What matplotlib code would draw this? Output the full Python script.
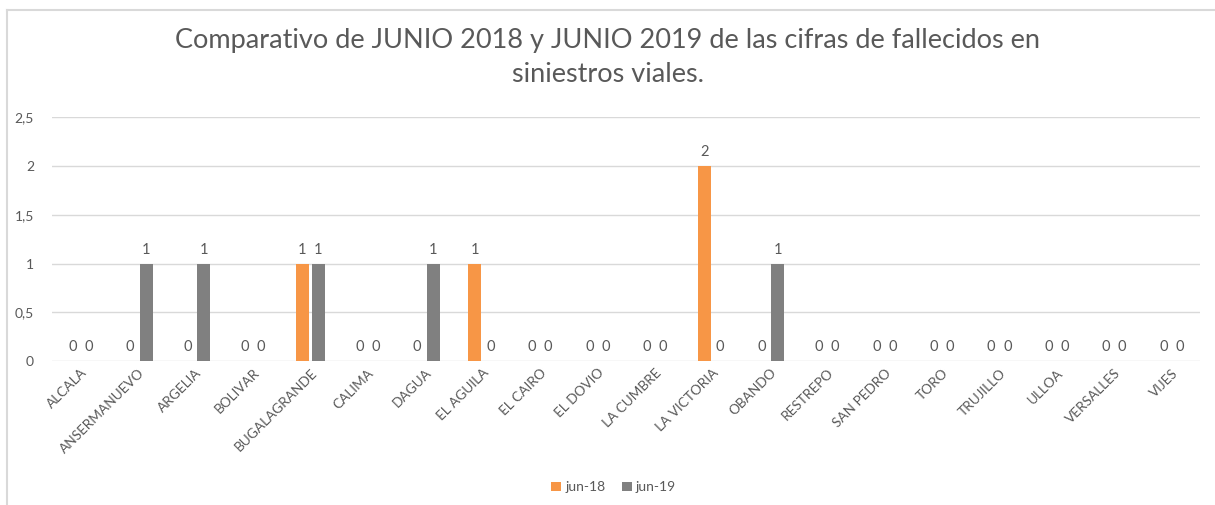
import numpy as np
import matplotlib
matplotlib.use("Agg")
import matplotlib.pyplot as plt
from matplotlib.ticker import FuncFormatter
from matplotlib.lines import Line2D

plt.rcParams['font.family'] = ['Lato', 'DejaVu Sans']

municipios = ['ALCALA', 'ANSERMANUEVO', 'ARGELIA', 'BOLIVAR', 'BUGALAGRANDE', 'CALIMA',
              'DAGUA', 'EL AGUILA', 'EL CAIRO', 'EL DOVIO', 'LA CUMBRE', 'LA VICTORIA',
              'OBANDO', 'RESTREPO', 'SAN PEDRO', 'TORO', 'TRUJILLO', 'ULLOA',
              'VERSALLES', 'VIJES']
jun18 = [0, 0, 0, 0, 1, 0, 0, 1, 0, 0, 0, 2, 0, 0, 0, 0, 0, 0, 0, 0]
jun19 = [0, 1, 1, 0, 1, 0, 1, 0, 0, 0, 0, 0, 1, 0, 0, 0, 0, 0, 0, 0]
series_names = ['jun-18', 'jun-19']

c18 = '#F79646'
c19 = '#808080'
txt = '#595959'
grid_c = '#D9D9D9'

fig = plt.figure(figsize=(12.15, 5.05), dpi=100)
ax = fig.add_axes([0.0428, 0.285, 0.945, 0.483])

x = np.arange(len(municipios))
w = 0.23
off = 0.14
b1 = ax.bar(x - off, jun18, w, color=c18, label=series_names[0], zorder=3)
b2 = ax.bar(x + off, jun19, w, color=c19, label=series_names[1], zorder=3)

for bars in (b1, b2):
    for r in bars:
        h = r.get_height()
        ax.annotate(f"{h:g}", (r.get_x() + r.get_width() / 2, h), xytext=(0, 5),
                    textcoords='offset points', ha='center', va='bottom',
                    fontsize=10.5, color=txt)

ax.set_xlim(-0.5, len(municipios) - 0.5)
ax.set_ylim(0, 2.5)
ax.set_yticks([0, 0.5, 1, 1.5, 2, 2.5])
ax.yaxis.set_major_formatter(FuncFormatter(lambda v, p: f"{v:g}".replace('.', ',')))
ax.grid(axis='y', color=grid_c, linewidth=1, zorder=0)
for s in ax.spines.values():
    s.set_visible(False)
ax.tick_params(axis='y', length=0, pad=13, labelsize=10, labelcolor=txt)
ax.tick_params(axis='x', length=0, pad=4, labelsize=9.8, labelcolor=txt)
ax.set_xticks(x)
ax.set_xticklabels(municipios, rotation=45, ha='right', rotation_mode='anchor')

fig.text(0.5, 0.945, "Comparativo de JUNIO 2018 y JUNIO 2019 de las cifras de fallecidos en\nsiniestros viales.",
         ha='center', va='top', fontsize=19.5, color=txt, linespacing=1.45)

fig.legend(handles=[b1, b2], labels=series_names, loc='center', bbox_to_anchor=(0.505, 0.035),
           ncol=2, frameon=False, fontsize=10, labelcolor=txt, handlelength=0.7,
           handleheight=0.7, handletextpad=0.3, columnspacing=1.2)

# chart frame (top and left edges visible)
fig.add_artist(Line2D([0.0058, 1.0], [0.981, 0.981], color=grid_c, lw=1.5, transform=fig.transFigure))
fig.add_artist(Line2D([0.0058, 0.0058], [0.0, 0.981], color=grid_c, lw=1.5, transform=fig.transFigure))

fig.savefig('out.png', dpi=100)
